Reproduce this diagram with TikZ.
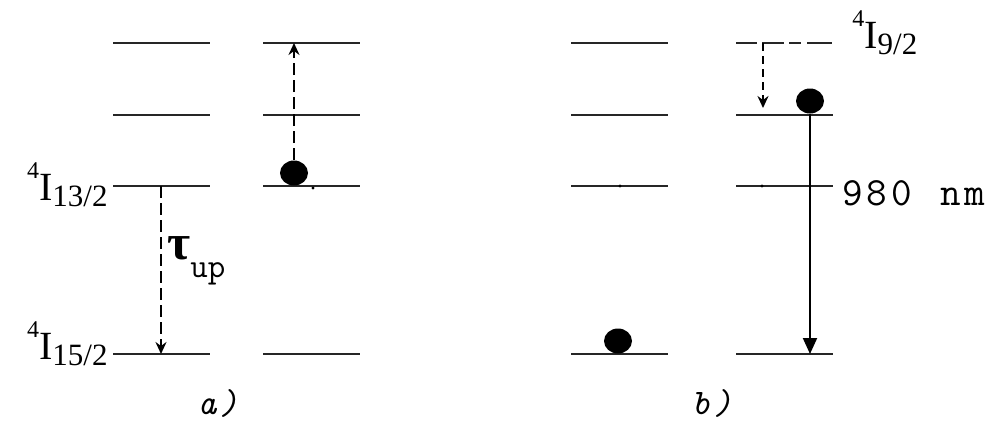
\documentclass[tikz,border=0pt]{standalone}
\usepackage{fontspec}
\setmainfont{Liberation Serif}
\usetikzlibrary{arrows.meta,shapes.geometric}

\newcommand{\termsym}[1]{\raisebox{11pt}{\fontsize{12}{12}\selectfont 4}I\raisebox{-3pt}{\fontsize{15.5}{16}\selectfont #1}}

\tikzset{
  level/.style={line width=1pt, black!85},
  jump/.style={->, line width=1pt, dash pattern=on 6pt off 2.5pt},
  emit/.style={-{Triangle[length=8pt,width=7pt]}, line width=1pt},
  ion/.style={ellipse, fill=black, minimum width=14pt, minimum height=12.5pt, inner sep=0pt},
  term/.style={font=\fontsize{20}{22}\selectfont, inner sep=0pt},
  caption/.style={font=\fontsize{18}{18}\selectfont\ttfamily\itshape, inner sep=0pt},
}

\begin{document}
\begin{tikzpicture}[x=0.5pt, y=-0.5pt, >={Stealth[length=6pt,width=5.5pt,inset=2pt]}]
    \useasboundingbox (0,0) rectangle (991,423);

    % energy levels
    \foreach \y in {43,115,186,354} {
        \draw[level] (113,\y) -- (210,\y);
        \draw[level] (263,\y) -- (360,\y);
        \draw[level] (571,\y) -- (668,\y);
    }
    \foreach \y in {115,186,354}
        \draw[level] (736,\y) -- (833,\y);
    \draw[level, dash pattern=on 10.5pt off 2.5pt on 11pt off 2.5pt on 6pt off 3pt on 12.5pt]
        (736,43) -- (833,43);

    \fill (313,188) circle (0.8pt);
    \fill (620,186) circle (0.8pt);
    \fill (762,186) circle (0.8pt);

    % ions
    \node[ion] (ionA) at (294,173) {};
    \node[ion] (ionB) at (618,341) {};
    \node[ion] (ionC) at (810,101) {};

    \coordinate (tauTop) at (161,186);
    \coordinate (tauBot) at (161,354);
    \coordinate (pumpA) at (294,43);
    \coordinate (relTop) at (763,43);
    \coordinate (relBot) at (763,108);
    \coordinate (emitBot) at (810,354);

    \draw[jump] (tauTop) -- (tauBot);
    \draw[jump] (ionA.north) -- (pumpA);
    \draw[jump, dash pattern=on 4pt off 2.5pt] (relTop) -- (relBot);
    \draw[emit] (ionC.south) -- (emitBot);

    % labels
    \node[term, anchor=base east] (l13) at (108,200) {\termsym{13/2}};
    \node[term, anchor=base east] (l15) at (108,359) {\termsym{15/2}};
    \node[term, anchor=base west] (l9) at (852,48) {\termsym{9/2}};
    \node[anchor=base west, inner sep=0pt, font=\fontsize{20}{20}\selectfont\ttfamily] (wl) at (842,205)
        {9\kern2pt 8\kern2pt 0\kern2pt\ \kern2pt n\kern1.5pt m};
    \node[anchor=base west, inner sep=0pt] (tau) at (167,259)
        {\fontsize{25}{26}\selectfont\textbf{τ}\raisebox{-9pt}{\fontsize{17}{17}\selectfont\ttfamily up}};

    \node[caption, anchor=base] (capA) at (218,414) {a\kern1.5pt)};
    \node[caption, anchor=base] (capB) at (712,414) {b\kern1.5pt)};
\end{tikzpicture}
\end{document}
